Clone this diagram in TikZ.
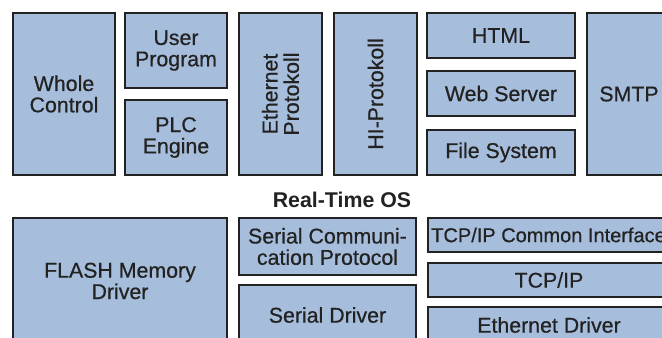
\documentclass[tikz,border=0pt]{standalone}
\usepackage{fontspec}
\setmainfont{Liberation Sans}
\newfontfamily\boxfont{Liberation Sans}[FakeBold=0.6]
\definecolor{boxblue}{RGB}{166,190,220}
\definecolor{boxline}{RGB}{34,34,34}

\begin{document}
\begin{tikzpicture}[x=0.75pt, y=-0.75pt, draw=boxline, text=boxline, align=center]
    \tikzstyle{every node}=[inner sep=0pt, font=\boxfont\fontsize{16}{16}\selectfont];
    \tikzstyle{layer}=[draw, fill=boxblue, line width=1.6pt];

    \useasboundingbox (0,0) rectangle (662,338);
    \clip (0,0) rectangle (662,338);

    % application layer
    \node (whole) [layer, minimum width=76.5pt, minimum height=121.5pt] at (64,94) {Whole\\Control};
    \node (user) [layer, minimum width=76.5pt, minimum height=56.25pt] at (176,50.5) {User\\Program};
    \node (plc) [layer, minimum width=76.5pt, minimum height=56.25pt] at (176,137.5) {PLC\\Engine};
    \node (ethproto) [layer, rotate=90, minimum width=121.5pt, minimum height=62.25pt] at (280.5,94) {Ethernet\\Protokoll};
    \node (hiproto) [layer, rotate=90, minimum width=121.5pt, minimum height=62.25pt] at (375.5,94) {HI-Protokoll};
    \node (html) [layer, minimum width=111pt, minimum height=33.75pt] at (501,35.5) {HTML};
    \node (websrv) [layer, minimum width=111pt, minimum height=33.75pt] at (501,93.5) {Web Server};
    \node (filesys) [layer, minimum width=111pt, minimum height=33.75pt] at (501,152.5) {File System};
    \node (smtp) [layer, minimum width=63pt, minimum height=121.5pt] at (629,94) {SMTP};

    \node (rtos) [font=\fontsize{16}{16}\selectfont\bfseries] at (342,200) {Real-Time OS};

    % driver layer
    \node (flash) [layer, minimum width=160.5pt, minimum height=94.5pt] at (120,281) {FLASH Memory\\Driver};
    \node (sercomm) [layer, minimum width=132.75pt, minimum height=42.75pt] at (327.5,246.5) {Serial Communi-\\cation Protocol};
    \node (serdrv) [layer, minimum width=132.75pt, minimum height=45pt] at (327.5,315) {Serial Driver};
    \node (tcpcommon) [layer, minimum width=181.5pt, minimum height=25.5pt] at (549,235) {};
    \node (tcpcommontext) [anchor=west, font=\boxfont\fontsize{15}{15}\selectfont] at (431,235) {TCP/IP Common Interface};
    \node (tcpip) [layer, minimum width=181.5pt, minimum height=25.5pt] at (549,280) {TCP/IP};
    \node (ethdrv) [layer, minimum width=181.5pt, minimum height=27pt] at (549,325) {Ethernet Driver};
\end{tikzpicture}
\end{document}
